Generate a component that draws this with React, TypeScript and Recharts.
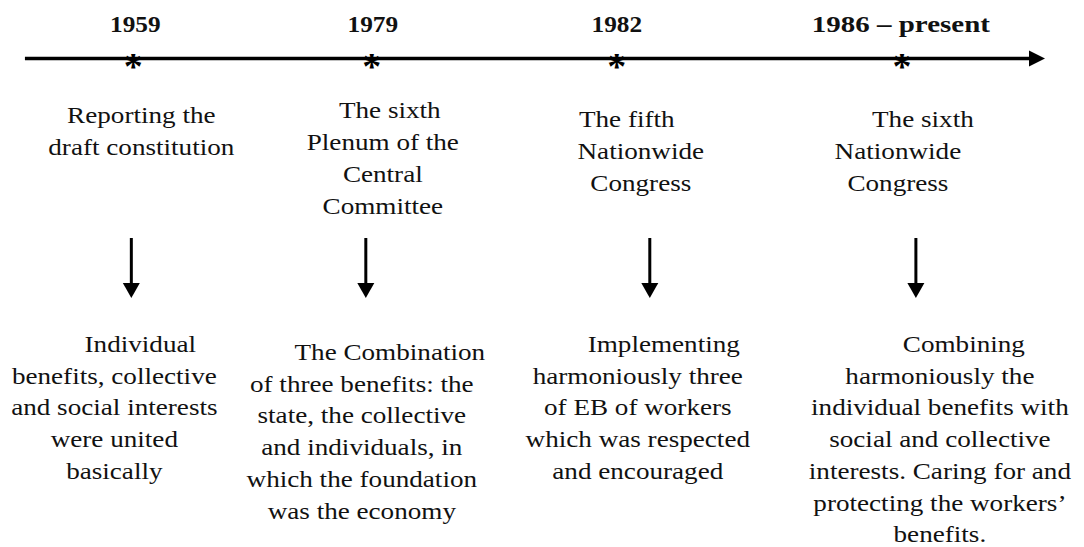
import { ComposedChart, ReferenceLine, Scatter, XAxis, YAxis } from "recharts";

// timeline events, positions on a 0–100 scale along the axis
const eventYears = ["1959", "1979", "1982", "1986 – present"];
const eventPositions = [12.3, 34.3, 56.9, 83.2];
const eventTitles = [
  ["Reporting the", "draft constitution"],
  ["The sixth", "Plenum of the", "Central", "Committee"],
  ["The fifth", "Nationwide", "Congress"],
  ["The sixth", "Nationwide", "Congress"],
];
const eventDetails = [
  ["Individual", "benefits, collective", "and social interests", "were united", "basically"],
  [
    "The Combination",
    "of three benefits: the",
    "state, the collective",
    "and individuals, in",
    "which the foundation",
    "was the economy",
  ],
  ["Implementing", "harmoniously three", "of EB of workers", "which was respected", "and encouraged"],
  [
    "Combining",
    "harmoniously the",
    "individual benefits with",
    "social and collective",
    "interests. Caring for and",
    "protecting the workers’",
    "benefits.",
  ],
];
const timelineStart = 2.3;
const timelineEnd = 96.4;

const W = 1084;
const H = 547;
const AXIS_Y = 58.5;
const FONT = "Liberation Serif, DejaVu Serif, serif";
const INK = "#111";
const STRETCH = 1.18;

// per-column placement relative to the star (px)
const COLUMNS = [
  { yearDx: 2, yearSx: 1.1, titleDx: 8, titleIndent: 0, titleY: 123, arrowDx: -2, detailDx: -19, detailIndent: 26, detailY: 352, clipDx: 85 },
  { yearDx: 1, yearSx: 1.1, titleDx: 11, titleIndent: 7, titleY: 118, arrowDx: -6, detailDx: -10, detailIndent: 28, detailY: 360 },
  { yearDx: 0, yearSx: 1.1, titleDx: 24, titleIndent: -14, titleY: 127, arrowDx: 33, detailDx: 21, detailIndent: 26, detailY: 352 },
  { yearDx: -1, yearSx: 1.26, titleDx: -4, titleIndent: 25, titleY: 127, arrowDx: 14, detailDx: 38, detailIndent: 24, detailY: 352 },
];

const events = eventYears.map((year, i) => ({
  index: i,
  year,
  pos: eventPositions[i],
  y: AXIS_Y,
  title: eventTitles[i],
  detail: eventDetails[i],
}));

function Stretched({ x, y, sx, size, bold, children }: any) {
  return (
    <g transform={`translate(${x} ${y}) scale(${sx} 1)`}>
      <text
        x={0}
        y={0}
        textAnchor="middle"
        style={{ fontFamily: FONT, fontSize: size, fontWeight: bold ? 700 : 400 }}
        fill={INK}
      >
        {children}
      </text>
    </g>
  );
}

function EventMark(props: any) {
  const { cx, cy, payload } = props;
  const col = COLUMNS[payload.index];
  const ax = cx + col.arrowDx;
  const clipId = `clip-${payload.index}`;
  return (
    <g>
      <Stretched x={cx + col.yearDx} y={32} sx={col.yearSx} size={23} bold>
        {payload.year}
      </Stretched>
      <text
        x={cx}
        y={cy + 20}
        textAnchor="middle"
        style={{ fontFamily: FONT, fontSize: 38, fontWeight: 700 }}
        fill="#000"
      >
        *
      </text>
      {payload.title.map((t: string, k: number) => (
        <Stretched key={k} x={cx + col.titleDx + (k === 0 ? col.titleIndent : 0)} y={col.titleY + k * 32} sx={STRETCH} size={23}>
          {t}
        </Stretched>
      ))}
      <line x1={ax} y1={238} x2={ax} y2={285} stroke="#000" strokeWidth={3} />
      <polygon points={`${ax - 8.5},283 ${ax + 8.5},283 ${ax},298`} fill="#000" />
      {col.clipDx !== undefined && (
        <defs>
          <clipPath id={clipId}>
            <rect x={0} y={300} width={cx + col.clipDx} height={250} />
          </clipPath>
        </defs>
      )}
      <g clipPath={col.clipDx !== undefined ? `url(#${clipId})` : undefined}>
        {payload.detail.map((t: string, k: number) => (
          <Stretched
            key={k}
            x={cx + col.detailDx + (k === 0 ? col.detailIndent : 0)}
            y={col.detailY + k * 31.7}
            sx={STRETCH}
            size={23}
          >
            {t}
          </Stretched>
        ))}
      </g>
    </g>
  );
}

function TimelineArrow(props: any) {
  const { x1, y1, x2 } = props;
  const head = 16;
  return (
    <g>
      <line x1={x1} y1={y1} x2={x2 - head + 1} y2={y1} stroke="#000" strokeWidth={3.5} />
      <polygon points={`${x2 - head},${y1 - 8} ${x2 - head},${y1 + 8} ${x2},${y1}`} fill="#000" />
    </g>
  );
}

export default function App() {
  return (
    <div style={{ position: "absolute", left: 0, top: 0, width: W, height: H, background: "#fff" }}>
      <ComposedChart width={W} height={H} data={events} margin={{ top: 0, right: 0, bottom: 0, left: 0 }}>
        <XAxis dataKey="pos" type="number" domain={[0, 100]} hide />
        <YAxis dataKey="y" type="number" domain={[0, H]} reversed hide />
        <ReferenceLine
          segment={[
            { x: timelineStart, y: AXIS_Y },
            { x: timelineEnd, y: AXIS_Y },
          ]}
          shape={TimelineArrow}
          ifOverflow="visible"
        />
        <Scatter data={events} shape={EventMark} isAnimationActive={false} />
      </ComposedChart>
    </div>
  );
}
